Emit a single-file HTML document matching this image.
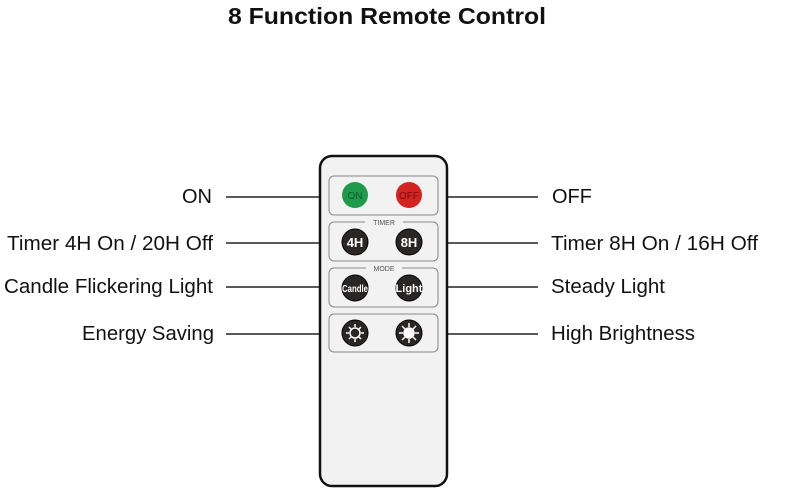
<!DOCTYPE html>
<html><head><meta charset="utf-8"><style>
body{margin:0;background:#fff;}
svg{display:block;}
text{font-family:"Liberation Sans",sans-serif;}
</style></head><body>
<svg width="794" height="502" viewBox="0 0 794 502" xmlns="http://www.w3.org/2000/svg">
<rect width="794" height="502" fill="#fff"/>
<text x="387" y="24" text-anchor="middle" font-size="23" font-weight="bold" fill="#111" textLength="318" lengthAdjust="spacingAndGlyphs">8 Function Remote Control</text>
<g stroke="#222" stroke-width="1.6">
<line x1="226" y1="197" x2="320" y2="197"/><line x1="447" y1="197" x2="538" y2="197"/>
<line x1="226" y1="243" x2="320" y2="243"/><line x1="447" y1="243" x2="538" y2="243"/>
<line x1="226" y1="287" x2="320" y2="287"/><line x1="447" y1="287" x2="538" y2="287"/>
<line x1="226" y1="334" x2="320" y2="334"/><line x1="447" y1="334" x2="538" y2="334"/>
</g>
<g font-size="20.5" fill="#111">
<text x="182" y="203" textLength="30" lengthAdjust="spacingAndGlyphs">ON</text>
<text x="7" y="250" textLength="206" lengthAdjust="spacingAndGlyphs">Timer 4H On / 20H Off</text>
<text x="4" y="293" textLength="209" lengthAdjust="spacingAndGlyphs">Candle Flickering Light</text>
<text x="82" y="340" textLength="132" lengthAdjust="spacingAndGlyphs">Energy Saving</text>
<text x="552" y="203" textLength="40" lengthAdjust="spacingAndGlyphs">OFF</text>
<text x="551" y="250" textLength="207" lengthAdjust="spacingAndGlyphs">Timer 8H On / 16H Off</text>
<text x="551" y="293" textLength="114" lengthAdjust="spacingAndGlyphs">Steady Light</text>
<text x="551" y="340" textLength="144" lengthAdjust="spacingAndGlyphs">High Brightness</text>
</g>
<rect x="320" y="156" width="127" height="330" rx="12" fill="#f2f2f2" stroke="#111" stroke-width="2.5"/>
<g fill="none" stroke="#888" stroke-width="1">
<rect x="329" y="176" width="109" height="39" rx="5"/>
<rect x="329" y="222" width="109" height="39" rx="5"/>
<rect x="329" y="268" width="109" height="39" rx="5"/>
<rect x="329" y="314" width="109" height="38" rx="5"/>
</g>
<rect x="365" y="217" width="38" height="9" fill="#f2f2f2"/>
<rect x="366" y="263" width="36" height="9" fill="#f2f2f2"/>
<text x="384" y="225" text-anchor="middle" font-size="7" fill="#555">TIMER</text>
<text x="384" y="271" text-anchor="middle" font-size="7" fill="#555">MODE</text>
<circle cx="355" cy="195" r="13" fill="#1e9a4a"/>
<circle cx="409" cy="195" r="13" fill="#d42323"/>
<text x="355" y="199" text-anchor="middle" font-size="10" fill="#0d5e2a">ON</text>
<text x="409" y="199" text-anchor="middle" font-size="10" fill="#7a1010">OFF</text>
<g fill="#2a2625" stroke="#000" stroke-width="1">
<circle cx="355" cy="242" r="13"/><circle cx="409" cy="242" r="13"/>
<circle cx="355" cy="288" r="13"/><circle cx="409" cy="288" r="13"/>
<circle cx="355" cy="333" r="13"/><circle cx="409" cy="333" r="13"/>
</g>
<g fill="#fff" font-weight="bold" text-anchor="middle">
<text x="355" y="247" font-size="13">4H</text>
<text x="409" y="247" font-size="13">8H</text>
<text x="355" y="292" font-size="10" textLength="26" lengthAdjust="spacingAndGlyphs">Candle</text>
<text x="409" y="292" font-size="11">Light</text>
</g>
<g stroke="#fff" stroke-width="1.5">
<circle cx="355" cy="333" r="5" fill="none"/>
<path d="M355 324v3M355 339v3M346 333h3M361 333h3M349 327l2 2M359 337l2 2M361 327l-2 2M351 337l-2 2"/>
<circle cx="409" cy="333" r="5" fill="#fff"/>
<path d="M409 323v4M409 339v4M399 333h4M415 333h4M402 326l3 3M413 337l3 3M416 326l-3 3M405 337l-3 3"/>
</g>
</svg>
</body></html>
